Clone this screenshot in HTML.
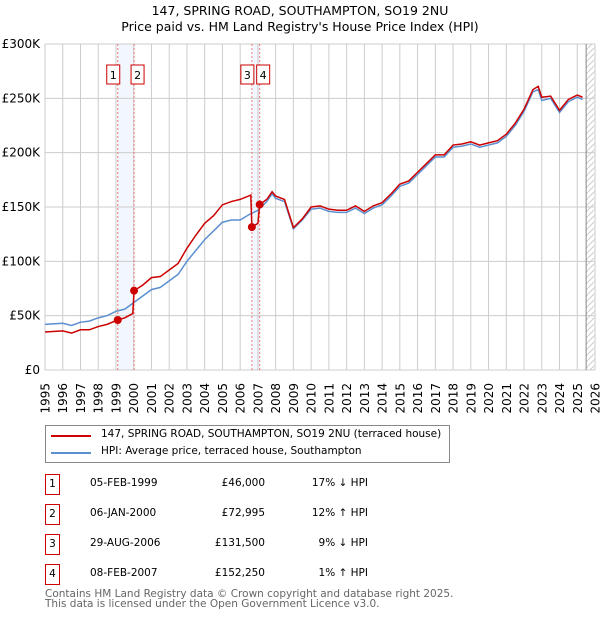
<!DOCTYPE html>
<html><head><meta charset="utf-8"><style>
body{margin:0;background:#fff;font-family:"DejaVu Sans","Liberation Sans",sans-serif;}
#wrap{position:relative;width:600px;height:620px;}
.t{position:absolute;font-size:10.5px;color:#000;white-space:nowrap;}
.box{position:absolute;border:1px solid #c00;width:13px;height:19px;font-size:10.5px;text-align:center;line-height:19px;}
</style></head><body><div id="wrap">
<svg id="chart" width="600" height="420" style="position:absolute;left:0;top:0"></svg>
<div style="position:absolute;left:45px;top:425px;width:403px;height:36px;border:1px solid #888;">
 <div><span style="position:absolute;left:5px;top:9px;width:40px;height:2px;background:#c00"></span><span class="t" style="left:55px;top:2px">147, SPRING ROAD, SOUTHAMPTON, SO19 2NU (terraced house)</span></div>
 <div><span style="position:absolute;left:5px;top:26px;width:40px;height:2px;background:#5b8fd0"></span><span class="t" style="left:55px;top:19px">HPI: Average price, terraced house, Southampton</span></div>
</div>
<div id="tbl"></div>
<div class="t" style="left:45px;top:589px;color:#666;font-size:10.5px;line-height:10px">Contains HM Land Registry data © Crown copyright and database right 2025.<br>This data is licensed under the Open Government Licence v3.0.</div>
</div>
<script>
const hpiYears=[1995,1996,1996.5,1997,1997.5,1998,1998.5,1999,1999.5,2000,2000.5,2001,2001.5,2002,2002.5,2003,2003.5,2004,2004.5,2005,2005.5,2006,2006.5,2007,2007.5,2007.8,2008,2008.5,2009,2009.5,2010,2010.5,2011,2011.5,2012,2012.5,2013,2013.5,2014,2014.5,2015,2015.5,2016,2016.5,2017,2017.5,2018,2018.5,2019,2019.5,2020,2020.5,2021,2021.5,2022,2022.5,2022.8,2023,2023.5,2024,2024.5,2025,2025.3];
const hpiValues=[42,43,41,44,45,48,50,54,56,62,68,74,76,82,88,100,110,120,128,136,138,138,143,147,155,162,158,155,130,138,148,149,146,145,145,149,144,149,152,160,169,172,180,188,196,196,205,206,208,205,207,209,215,225,238,256,258,248,250,237,247,251,249];
const redYears=[1995,1996,1996.5,1997,1997.5,1998,1998.5,1999.09,1999.5,1999.95,2000.02,2000.5,2001,2001.5,2002,2002.5,2003,2003.5,2004,2004.5,2005,2005.5,2006,2006.6,2006.66,2007,2007.1,2007.5,2007.8,2008,2008.5,2009,2009.5,2010,2010.5,2011,2011.5,2012,2012.5,2013,2013.5,2014,2014.5,2015,2015.5,2016,2016.5,2017,2017.5,2018,2018.5,2019,2019.5,2020,2020.5,2021,2021.5,2022,2022.5,2022.8,2023,2023.5,2024,2024.5,2025,2025.3];
const redValues=[35,36,34,37,37,40,42,46,48,52,73,78,85,86,92,98,112,124,135,142,152,155,157,161,131.5,135,152.25,157,164,160,157,131,139,150,151,148,147,147,151,146,151,154,162,171,174,182,190,198,198,207,208,210,207,209,211,217,227,240,258,261,251,252,239,249,253,251];
const sales=[["1","05-FEB-1999","£46,000","17% ↓ HPI",1999.1,46],["2","06-JAN-2000","£72,995","12% ↑ HPI",2000.02,73],["3","29-AUG-2006","£131,500","9% ↓ HPI",2006.66,131.5],["4","08-FEB-2007","£152,250","1% ↑ HPI",2007.1,152.25]];
const yTicks=[0,50,100,150,200,250,300];
const yLabels=["£0","£50K","£100K","£150K","£200K","£250K","£300K"];
const X0=45,X1=595,Y0=370,Y1=44,TODAY=2025.5;
const xs=y=>X0+(y-1995)*(X1-X0)/31, ys=v=>Y0-v*(Y0-Y1)/300;
const svg=document.getElementById('chart');const NS='http://www.w3.org/2000/svg';
function mk(t,a,p){const e=document.createElementNS(NS,t);for(const k in a)e.setAttribute(k,a[k]);(p||svg).appendChild(e);return e;}
let e;
e=mk('text',{x:300,y:15,'text-anchor':'middle','font-size':'12.5'});e.textContent='147, SPRING ROAD, SOUTHAMPTON, SO19 2NU';


e=mk('text',{x:300,y:31,'text-anchor':'middle','font-size':'12.5'});e.textContent="Price paid vs. HM Land Registry's House Price Index (HPI)";


[[0,1],[2,3]].forEach(p=>{e=mk('rect',{x:xs(sales[p[0]][4]),y:Y1,width:xs(sales[p[1]][4])-xs(sales[p[0]][4]),height:Y0-Y1,fill:'#f2f6fd'});

});
const df=mk('defs',{});const pt=mk('pattern',{id:'h',width:6,height:6,patternUnits:'userSpaceOnUse'},df);mk('path',{d:'M0,6L6,0',stroke:'#ccc','stroke-width':1},pt);
e=mk('rect',{x:xs(TODAY),y:Y1,width:X1-xs(TODAY),height:Y0-Y1,fill:'url(#h)'});


for(let y=1995;y<=2026;y++){e=mk('line',{x1:xs(y),x2:xs(y),y1:Y1,y2:Y0,stroke:'#ccc'});


e=mk('text',{transform:`translate(${xs(y)+4.5},383) rotate(-90)`,'text-anchor':'end','font-size':'12'});e.textContent=y;

}
yTicks.forEach((v,i)=>{e=mk('line',{x1:X0,x2:X1,y1:ys(v),y2:ys(v),stroke:'#ccc'});


e=mk('text',{x:40,y:ys(v)+4,'text-anchor':'end','font-size':'12'});e.textContent=yLabels[i];

});
e=mk('line',{x1:xs(TODAY),x2:xs(TODAY),y1:Y1,y2:Y0,stroke:'#888'});


sales.forEach(s=>{e=mk('line',{x1:xs(s[4]),x2:xs(s[4]),y1:Y1,y2:Y0,stroke:'#e77','stroke-dasharray':'2,2','stroke-width':1});

});
e=mk('polyline',{points:hpiYears.map((y,i)=>xs(y)+','+ys(hpiValues[i])).join(' '),fill:'none',stroke:'#5b8fd0','stroke-width':1.5});


e=mk('polyline',{points:redYears.map((y,i)=>xs(y)+','+ys(redValues[i])).join(' '),fill:'none',stroke:'#c00','stroke-width':1.5});


sales.forEach((s,i)=>{e=mk('circle',{cx:xs(s[4]),cy:ys(s[5]),r:4,fill:'#c00'});


e=mk('rect',{x:(i%2==0?xs(s[4])-11:xs(s[4])-3),y:65,width:13,height:19,fill:'#fff',stroke:'#c00'});


e=mk('text',{x:(i%2==0?xs(s[4])-4.5:xs(s[4])+3.5),y:79,'text-anchor':'middle','font-size':'11'});e.textContent=s[0];

});
const tb=document.getElementById('tbl');const tops=[474,504,534,564];
sales.forEach((s,i)=>{const r=document.createElement('div');


r.innerHTML=`<div class="box" style="left:45px;top:${tops[i]}px">${s[0]}</div><span class="t" style="left:90px;top:${tops[i]+3}px">${s[1]}</span><span class="t" style="right:335px;top:${tops[i]+3}px">${s[2]}</span><span class="t" style="right:232px;top:${tops[i]+3}px">${s[3]}</span>`;tb.appendChild(r);});
</script></body></html>
